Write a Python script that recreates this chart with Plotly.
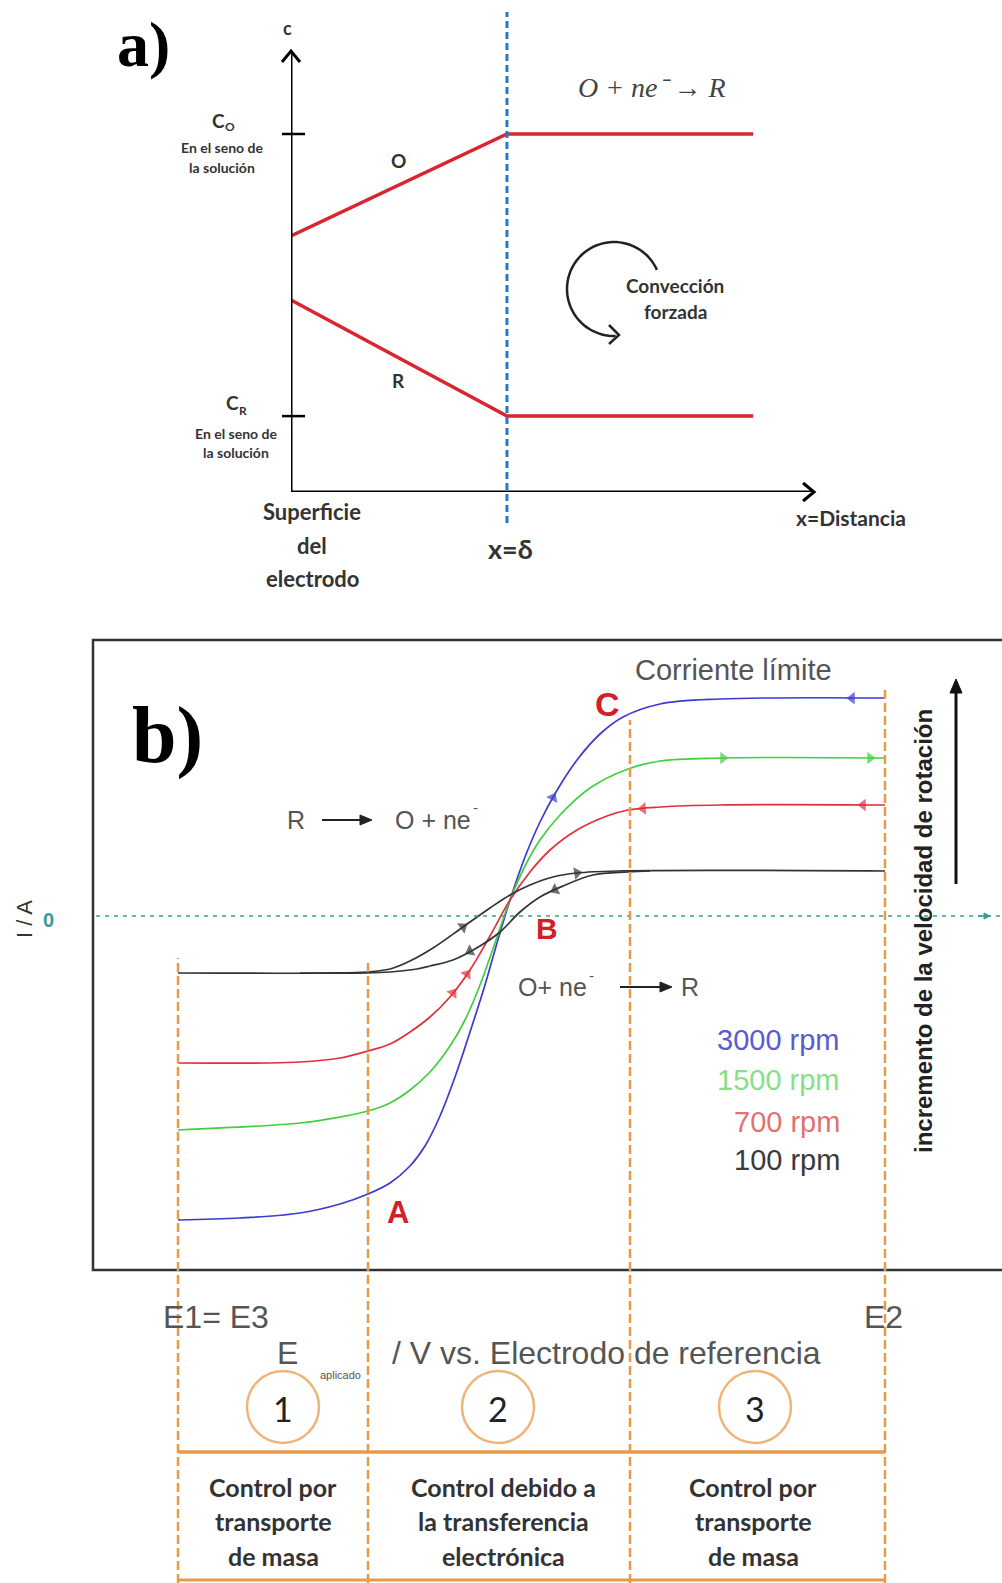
import numpy as np
import plotly.graph_objects as go

W, H = 1002, 1583

# ---------------- panel a: concentration profiles near the electrode ----------------
delta = 1.0                      # diffusion layer thickness (x = delta)
C_O_bulk = 1.0
C_R_bulk = 0.212
dist_O = [0.0, 1.0, 2.14]
conc_O = [0.715, 1.0, 1.0]
dist_R = [0.0, 1.0, 2.14]
conc_R = [0.536, 0.212, 0.212]

# ---------------- panel b: RDE voltammograms (arbitrary units) ----------------
E1, E_A, E_C, E2 = 0.0, 19.0, 45.2, 70.7   # region limits on the potential axis

E_3000 = [0.0, 6.2, 12.2, 16.2, 19.0, 21.2, 23.2, 24.7, 26.2, 27.7, 29.2, 30.7, 31.9,
          33.2, 34.7, 36.2, 37.8, 39.9, 42.2, 44.5, 48.2, 54.2, 70.7]
I_3000 = [-30.4, -30.2, -29.7, -28.8, -27.8, -26.7, -25.0, -23.0, -20.0, -16.1, -11.6,
          -6.9, -2.7, 1.6, 5.9, 9.4, 12.4, 15.6, 18.2, 19.9, 21.2, 21.7, 21.8]

E_1500 = [0.0, 12.2, 16.2, 19.0, 21.2, 23.2, 25.2, 27.2, 28.7, 30.2, 31.7, 33.2, 34.7,
          36.2, 38.2, 41.2, 45.0, 48.2, 54.2, 70.7]
I_1500 = [-21.4, -20.7, -20.1, -19.5, -18.7, -17.4, -15.6, -13.0, -10.4, -6.9, -2.7,
          1.6, 5.0, 7.6, 10.1, 12.8, 14.7, 15.5, 15.8, 15.8]

E_700 = [0.0, 12.2, 16.2, 19.0, 21.2, 23.2, 25.2, 27.2, 29.2, 31.2, 33.2, 35.2, 37.2,
         39.9, 42.9, 45.0, 48.2, 54.2, 70.7]
I_700 = [-14.7, -14.6, -14.2, -13.5, -12.8, -11.6, -10.1, -8.1, -5.4, -2.0, 1.6, 4.4,
         6.6, 8.6, 10.0, 10.6, 10.9, 11.1, 11.1]

E_100_fwd = [0.0, 15.2, 18.9, 21.2, 23.2, 25.5, 28.5, 31.2, 33.2, 35.2, 37.5, 39.9, 43.9, 70.7]
I_100_fwd = [-5.7, -5.7, -5.6, -5.3, -4.5, -3.2, -1.1, 0.8, 2.1, 3.1, 3.9, 4.3, 4.5, 4.5]
E_100_rev = [47.2, 45.0, 41.5, 38.5, 36.2, 34.2, 32.2, 30.2, 27.5, 25.2, 23.9, 21.2, 18.9, 12.2]
I_100_rev = [4.5, 4.4, 4.1, 3.0, 1.9, 0.4, -1.6, -3.0, -4.4, -5.0, -5.3, -5.6, -5.7, -5.7]

rpm_labels = ["3000 rpm", "1500 rpm", "700 rpm", "100 rpm"]
rpm_text_colors = ["#5a5ad2", "#86e086", "#e27272", "#3a3a3a"]

BLUE, GREEN, RED, BLACK = "#3b3bcf", "#3fcf3f", "#e0303c", "#333333"
ORANGE = "#e89a48"
TEAL = "#3a9e94"
GRAY = "#555555"


def px(x):
    return x / W


def py(y):
    return 1 - y / H


fig = go.Figure()

# panel a profiles
for d, c in [(dist_O, conc_O), (dist_R, conc_R)]:
    fig.add_trace(go.Scatter(x=d, y=c, mode="lines", xaxis="x", yaxis="y",
                             line=dict(color="#d9262e", width=3.5), hoverinfo="skip"))

# panel b curves
curves = [
    (E_3000, I_3000, BLUE),
    (E_1500, I_1500, GREEN),
    (E_700, I_700, RED),
    (E_100_fwd, I_100_fwd, BLACK),
    (E_100_rev, I_100_rev, BLACK),
]
for e, i, c in curves:
    fig.add_trace(go.Scatter(x=e, y=i, mode="lines", xaxis="x2", yaxis="y2",
                             line=dict(color=c, width=1.7, shape="spline", smoothing=1.0),
                             hoverinfo="skip"))


# direction markers on the curves (oriented along the scan)
def curve_arrow(e_list, i_list, e_head, direction, color):
    e = np.asarray(e_list, float)
    i = np.asarray(i_list, float)
    order = np.argsort(e)
    e_tail = e_head - direction * 0.3
    ih = float(np.interp(e_head, e[order], i[order]))
    it = float(np.interp(e_tail, e[order], i[order]))
    fig.add_trace(go.Scatter(x=[e_tail, e_head], y=[it, ih], mode="markers",
                             xaxis="x2", yaxis="y2", hoverinfo="skip",
                             marker=dict(symbol="triangle-up", size=[0, 11], color=color,
                                         angleref="previous", line=dict(width=0))))


curve_arrow(E_3000, I_3000, 37.5, 1, BLUE)
curve_arrow(E_3000, I_3000, 67.4, -1, BLUE)
curve_arrow(E_1500, I_1500, 54.5, 1, GREEN)
curve_arrow(E_1500, I_1500, 69.2, 1, GREEN)
curve_arrow(E_700, I_700, 46.5, -1, RED)
curve_arrow(E_700, I_700, 68.5, -1, RED)
curve_arrow(E_700, I_700, 27.5, 1, RED)
curve_arrow(E_700, I_700, 28.9, 1, RED)
curve_arrow(E_100_fwd, I_100_fwd, 28.5, 1, BLACK)
curve_arrow(E_100_fwd, I_100_fwd, 39.9, 1, BLACK)
curve_arrow(E_100_rev, I_100_rev, 29.2, -1, BLACK)
curve_arrow(E_100_rev, I_100_rev, 37.7, -1, BLACK)

shapes = []
annotations = []


def txt(x, y, s, size, color="#333333", family="Lato", bold=False, italic=False,
        angle=0, xanchor="center"):
    annotations.append(dict(
        x=px(x), y=py(y), xref="paper", yref="paper", text=s, showarrow=False,
        xanchor=xanchor, yanchor="middle", textangle=angle,
        font=dict(size=size, color=color, family=family,
                  weight="bold" if bold else "normal",
                  style="italic" if italic else "normal")))


def ppath(points, color, width, fill=None, close=False):
    d = "M " + " L ".join(f"{px(a):.5f},{py(b):.5f}" for a, b in points)
    if close:
        d += " Z"
    shp = dict(type="path", xref="paper", yref="paper", path=d,
               line=dict(color=color, width=width))
    if fill:
        shp["fillcolor"] = fill
    shapes.append(shp)


def parrow(x0, y0, x1, y1, color, width, head=10, half=4.5):
    """Straight arrow in pixel space with a filled triangular head at (x1, y1)."""
    v = np.array([x1 - x0, y1 - y0], float)
    u = v / np.linalg.norm(v)
    n = np.array([-u[1], u[0]])
    base = np.array([x1, y1]) - u * head
    ppath([(x0, y0), tuple(base)], color, width)
    p1 = base + n * half
    p2 = base - n * half
    ppath([(x1, y1), tuple(p1), tuple(p2)], color, 1, fill=color, close=True)


# ---------- panel a decorations ----------
shapes.append(dict(type="line", xref="x", yref="y", x0=0, y0=0, x1=0, y1=1.225,
                   line=dict(color="black", width=3)))
shapes.append(dict(type="line", xref="x", yref="y", x0=0, y0=0, x1=2.41, y1=0,
                   line=dict(color="black", width=3)))
ppath([(282, 62), (291, 51), (300, 62)], "black", 3)
ppath([(803, 483), (814, 492), (803, 501)], "black", 3)

for cval in (C_O_bulk, C_R_bulk):
    shapes.append(dict(type="line", xref="paper", yref="y", x0=px(282), x1=px(305),
                       y0=cval, y1=cval, line=dict(color="black", width=2.5)))

shapes.append(dict(type="line", xref="x", yref="paper", x0=delta, x1=delta,
                   y0=py(523), y1=py(12), line=dict(color="#2a78c2", width=3, dash="7px,4px")))

# forced convection curved arrow
cx, cy, r = 614, 289, 47
ang = np.linspace(np.radians(24), np.radians(272), 60)
arc = [(cx + r * np.cos(a), cy - r * np.sin(a)) for a in ang]
ppath(arc, "#222222", 2.5)
ppath([(609, 325), (619, 335), (609, 344)], "#222222", 2.5)

txt(143, 45, "a)", 64, color="black", family="Liberation Serif", bold=True)
txt(287, 28, "c", 18, bold=True)
txt(218, 120, "C", 19, bold=True)
txt(230, 127, "O", 12, bold=True)
txt(222, 148, "En el seno de", 14, bold=True)
txt(222, 167, "la solución", 14, bold=True)
txt(232, 403, "C", 19, bold=True)
txt(243, 410, "R", 12, bold=True)
txt(236, 433, "En el seno de", 14, bold=True)
txt(236, 452, "la solución", 14, bold=True)
txt(398, 161, "O", 19, bold=True)
txt(398, 381, "R", 19, bold=True)
txt(312, 512, "Superficie", 22, bold=True)
txt(312, 546, "del", 22, bold=True)
txt(312, 578, "electrodo", 22, bold=True)
txt(510, 548, "x=δ", 27, bold=True)
txt(851, 517, "x=Distancia", 21, bold=True)
txt(652, 88, "O + ne⁻ → R", 28, color="#444444", family="Liberation Serif", italic=True)
txt(675, 285, "Convección", 19, bold=True)
txt(675, 312, "forzada", 19, bold=True)

# ---------- panel b decorations ----------
shapes.append(dict(type="rect", xref="paper", yref="paper", x0=px(93), x1=1.02,
                   y0=py(1270), y1=py(640), line=dict(color="#333333", width=2.5)))
shapes.append(dict(type="line", xref="paper", yref="y2", x0=px(96), x1=1, y0=0, y1=0,
                   line=dict(color=TEAL, width=1.6, dash="4px,5px")))
parrow(978, 916, 990, 916, TEAL, 1.5, head=6, half=3)

for e, top in zip([E1, E_A, E_C, E2], [958, 962, 720, 690]):
    shapes.append(dict(type="line", xref="x2", yref="paper", x0=e, x1=e, y0=0, y1=py(top),
                       line=dict(color=ORANGE, width=2.5, dash="9px,4px")))
for yy, wdt in [(1452, 3.5), (1580, 3)]:
    shapes.append(dict(type="line", xref="x2", yref="paper", x0=E1, x1=E2, y0=py(yy), y1=py(yy),
                       line=dict(color=ORANGE, width=wdt)))
for cxn, num in [(283, "1"), (498, "2"), (755, "3")]:
    shapes.append(dict(type="circle", xref="paper", yref="paper",
                       x0=px(cxn - 36), x1=px(cxn + 36), y0=py(1407 + 36), y1=py(1407 - 36),
                       line=dict(color="#eeb57a", width=2.5)))
    txt(cxn, 1408, num, 34, color="#222222", family="Lato")

# rotation-rate arrow and reaction arrows
parrow(956, 884, 956, 679, "#111111", 3, head=14, half=6)
parrow(322, 820, 372, 820, "#222222", 2, head=12, half=5)
parrow(620, 987, 672, 987, "#222222", 2, head=12, half=5)

SANS = "Liberation Sans"
txt(167, 735, "b)", 80, color="black", family="Liberation Serif", bold=True)
txt(24, 919, "I / A", 22, color="#333333", family=SANS, angle=-90)
txt(48, 920, "0", 20, color=TEAL, family=SANS, bold=True)
txt(296, 820, "R", 25, color=GRAY, family=SANS)
txt(433, 820, "O + ne", 25, color=GRAY, family=SANS)
txt(475, 808, "-", 15, color=GRAY, family=SANS)
txt(552, 987, "O+ ne", 25, color=GRAY, family=SANS)
txt(591, 975, "-", 15, color=GRAY, family=SANS)
txt(690, 987, "R", 25, color=GRAY, family=SANS)
txt(733, 670, "Corriente límite", 29, color=GRAY, family=SANS)
txt(607, 704, "C", 34, color="#d41e28", family=SANS, bold=True)
txt(547, 929, "B", 30, color="#d41e28", family=SANS, bold=True)
txt(398, 1212, "A", 31, color="#d41e28", family=SANS, bold=True)
for lbl, col, yy in zip(rpm_labels, rpm_text_colors, [1040, 1080, 1122, 1160]):
    txt(842, yy, lbl, 29, color=col, family=SANS, xanchor="right")
txt(923, 931, "incremento de la velocidad de rotación", 24, color="#222222", family=SANS,
    bold=True, angle=-90)
txt(216, 1317, "E1= E3", 32, color=GRAY, family=SANS)
txt(883, 1317, "E2", 32, color=GRAY, family=SANS)
txt(287, 1353, "E", 32, color=GRAY, family=SANS)
txt(340, 1375, "aplicado", 11, color=GRAY, family=SANS)
txt(606, 1353, "/ V vs. Electrodo de referencia", 32, color=GRAY, family=SANS)

table_text = [
    (273, ["Control por", "transporte", "de masa"]),
    (504, ["Control debido a", "la transferencia", "electrónica"]),
    (753, ["Control por", "transporte", "de masa"]),
]
for cxt, lines in table_text:
    for yy, line in zip([1487, 1521, 1556], lines):
        txt(cxt, yy, line, 25, color="#333333", bold=True)

hidden = dict(visible=False, fixedrange=True)
fig.update_layout(
    width=W, height=H,
    margin=dict(l=0, r=0, t=0, b=0),
    paper_bgcolor="white", plot_bgcolor="rgba(0,0,0,0)",
    showlegend=False,
    xaxis=dict(domain=[px(291), px(813)], range=[0, 2.417], **hidden),
    yaxis=dict(domain=[py(492), py(50)], range=[0, 1.2346], **hidden),
    xaxis2=dict(domain=[px(93), 1.0], range=[-8.5, 82.4], **hidden),
    yaxis2=dict(domain=[py(1270), py(640)], range=[-35.4, 27.6], **hidden),
    shapes=shapes,
    annotations=annotations,
)

fig.write_html("out.html")
